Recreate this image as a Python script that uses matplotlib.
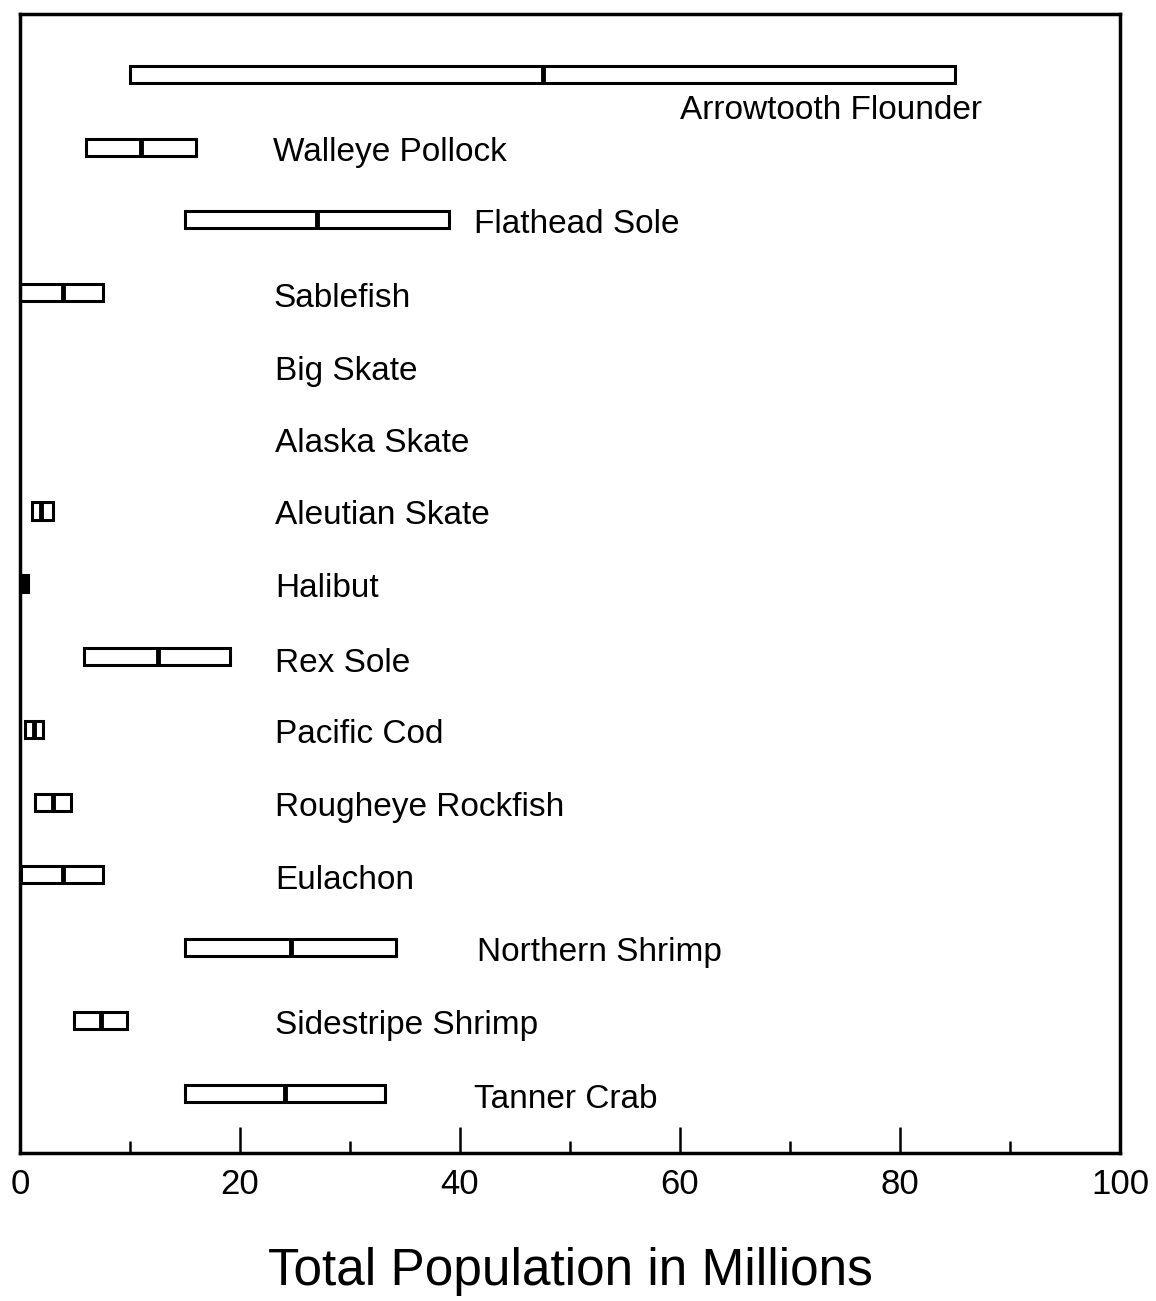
import numpy as np
import matplotlib.pyplot as plt

# species, from top to bottom
species = [
    "Arrowtooth Flounder", "Walleye Pollock", "Flathead Sole", "Sablefish",
    "Big Skate", "Alaska Skate", "Aleutian Skate", "Halibut", "Rex Sole",
    "Pacific Cod", "Rougheye Rockfish", "Eulachon", "Northern Shrimp",
    "Sidestripe Shrimp", "Tanner Crab",
]
# population range (millions): low, middle, high
low = [10.0, 6.0, 15.0, 0.0, np.nan, np.nan, 1.1, 0.0, 5.8, 0.5, 1.4, 0.1, 15.0, 4.9, 15.0]
mid = [47.5, 11.0, 27.0, 3.9, np.nan, np.nan, 1.9, 0.35, 12.5, 1.3, 3.0, 3.9, 24.6, 7.4, 24.1]
high = [85.0, 16.0, 39.0, 7.5, np.nan, np.nan, 3.0, 0.7, 19.1, 2.1, 4.6, 7.5, 34.2, 9.7, 33.2]

# where each name is written (x in data units, y offset from the row)
label_x = [60.0, 23.0, 41.3, 23.0, 23.2, 23.2, 23.2, 23.2, 23.2, 23.2, 23.2, 23.2, 41.5, 23.2, 41.3]
label_dy = [0.50, 0.08, 0.07, 0.08, 0.08, 0.07, 0.06, 0.07, 0.09, 0.07, 0.07, 0.07, 0.07, 0.07, 0.08]

plt.rcParams["font.family"] = ["Liberation Sans", "DejaVu Sans"]

fig = plt.figure(figsize=(11.56, 13.01), dpi=100)
ax = fig.add_axes([0.0173, 0.1138, 0.9516, 0.8755])

ypos = np.arange(len(species))
lo = np.array(low)
md = np.array(mid)
hi = np.array(high)
h = 0.235

ok = ~np.isnan(lo)
face = ["black" if (b - a) < 1 else "white" for a, b in zip(lo[ok], hi[ok])]
ax.barh(ypos[ok], hi[ok] - lo[ok], left=lo[ok], height=h,
        color=face, edgecolor="black", linewidth=2.2, zorder=2)
ax.vlines(md[ok], ypos[ok] - h / 2, ypos[ok] + h / 2, color="black",
          linewidth=3.5, zorder=3)

for y, name, lx, dy in zip(ypos, species, label_x, label_dy):
    ax.text(lx, y + dy, name, fontsize=24, va="center", ha="left")

ax.set_xlim(0, 100)
ax.set_ylim(14.82, -0.83)
ax.set_xticks(np.arange(0, 101, 20))
ax.set_xticks(np.arange(10, 100, 20), minor=True)
ax.set_yticks([])
ax.tick_params(axis="x", which="major", direction="in", length=19, width=1.8,
               labelsize=25, pad=11)
ax.tick_params(axis="x", which="minor", direction="in", length=9, width=1.8)
for s in ax.spines.values():
    s.set_linewidth(2.5)

ax.set_xlabel("Total Population in Millions", fontsize=37, labelpad=33)

fig.savefig("out.png", dpi=100)
